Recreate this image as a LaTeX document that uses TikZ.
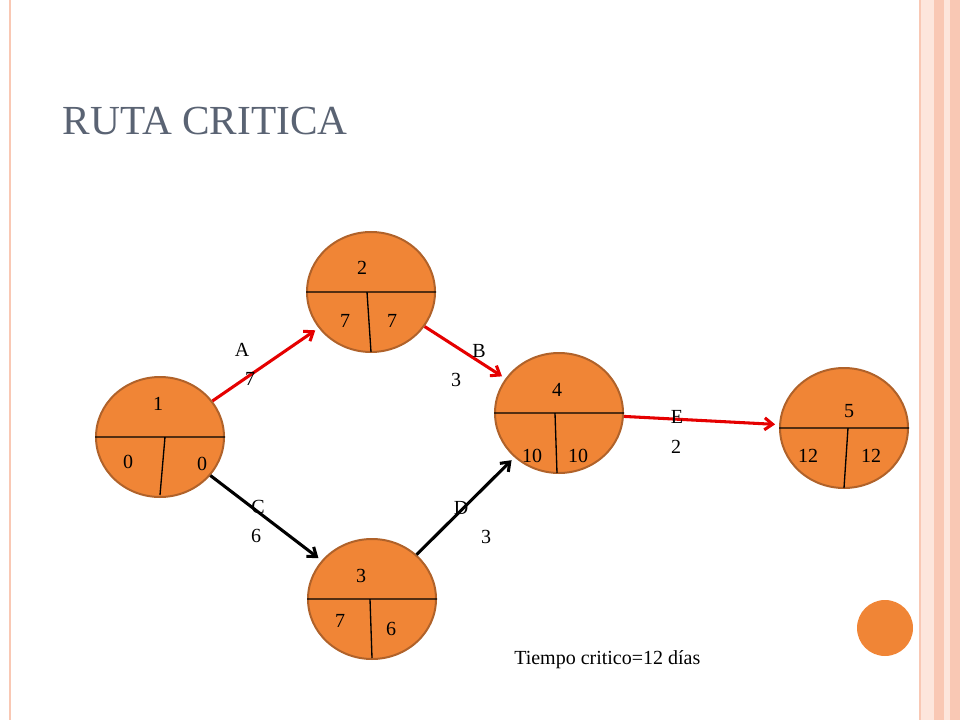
\documentclass[tikz,border=0pt]{standalone}
\usepackage{fontspec}
\setmainfont{Liberation Serif}
\usetikzlibrary{shapes.geometric,arrows.meta}
\definecolor{evfill}{HTML}{F08536}
\definecolor{evline}{HTML}{B0622A}
\definecolor{titlegray}{HTML}{5A6373}
\definecolor{stripe}{HTML}{F9C8B4}
\definecolor{stripelight}{HTML}{FDE6DC}
\tikzset{
  event/.style={ellipse,draw=evline,line width=1.5pt,fill=evfill,
    minimum width=96pt,minimum height=90pt,inner sep=0pt},
  num/.style={font=\fontsize{15}{15}\selectfont,inner sep=0pt},
  crit/.style={-{Straight Barb[length=6pt,width=9pt]},red!90!black,line width=2.3pt,shorten >=3pt},
  act/.style={-{Straight Barb[length=6pt,width=9pt]},black,line width=2.3pt,shorten >=3pt},
}
\begin{document}
\begin{tikzpicture}[x=0.75pt,y=-0.75pt]
\useasboundingbox (0,0) rectangle (960,720);
% frame
\draw[stripe,line width=1pt] (10,0) -- (10,720);
\fill[stripelight] (920,0) rectangle (960,720);
\draw[stripe,line width=1.5pt] (920,0) -- (920,720);
\fill[stripe] (934,0) rectangle (944,720);
\fill[stripe] (950,0) rectangle (960,720);
\node[anchor=west,text=titlegray,font=\fontsize{31}{31}\selectfont] (title) at (58,121) {RUTA CRITICA};
% events
\node[event] (n1) at (160,437) {};
\node[event] (n2) at (371,292) {};
\node[event] (n3) at (372,599) {};
\node[event] (n4) at (559,413) {};
\node[event] (n5) at (844,428) {};
\node[circle,fill=evfill,minimum size=42pt,inner sep=0pt] (dot) at (885,628) {};
% dividers
\draw[line width=1pt] (n1.west) -- (n1.east) (165,437) -- (160,495);
\draw[line width=1pt] (n2.west) -- (n2.east) (367,292) -- (371,352);
\draw[line width=1pt] (n3.west) -- (n3.east) (370,599) -- (372,658);
\draw[line width=1pt] (n4.west) -- (n4.east) (555,413) -- (557,473);
\draw[line width=1pt] (n5.west) -- (n5.east) (848,428) -- (844,488);
% event texts
\node[num] (n1id) at (158,404) {1};
\node[num] (n1e) at (128,462) {0};
\node[num] (n1l) at (202,464) {0};
\node[num] (n2id) at (362,268) {2};
\node[num] (n2e) at (345,321) {7};
\node[num] (n2l) at (392,321) {7};
\node[num] (n3id) at (361,576) {3};
\node[num] (n3e) at (340,621) {7};
\node[num] (n3l) at (391,629) {6};
\node[num] (n4id) at (557,390) {4};
\node[num] (n4e) at (532,456) {10};
\node[num] (n4l) at (578,456) {10};
\node[num] (n5id) at (849,411) {5};
\node[num] (n5e) at (808,456) {12};
\node[num] (n5l) at (871,456) {12};
% activities
\draw[crit] (n1) -- (n2);
\draw[crit] (n2) -- (n4);
\draw[act] (n1) -- (n3);
\draw[act] (n3) -- (n4);
\draw[crit] (n4) -- (n5);
\node[num] (la) at (242,350) {A};
\node[num] (ta) at (250,379) {7};
\node[num] (lb) at (479,351) {B};
\node[num] (tb) at (456,380) {3};
\node[num] (lc) at (258,507) {C};
\node[num] (tc) at (256,536) {6};
\node[num] (ld) at (461,508) {D};
\node[num] (td) at (486,537) {3};
\node[num] (le) at (677,417) {E};
\node[num] (te) at (676,447) {2};
\node[num,anchor=west] (note) at (514,660) {Tiempo critico=12 días};
\end{tikzpicture}
\end{document}
